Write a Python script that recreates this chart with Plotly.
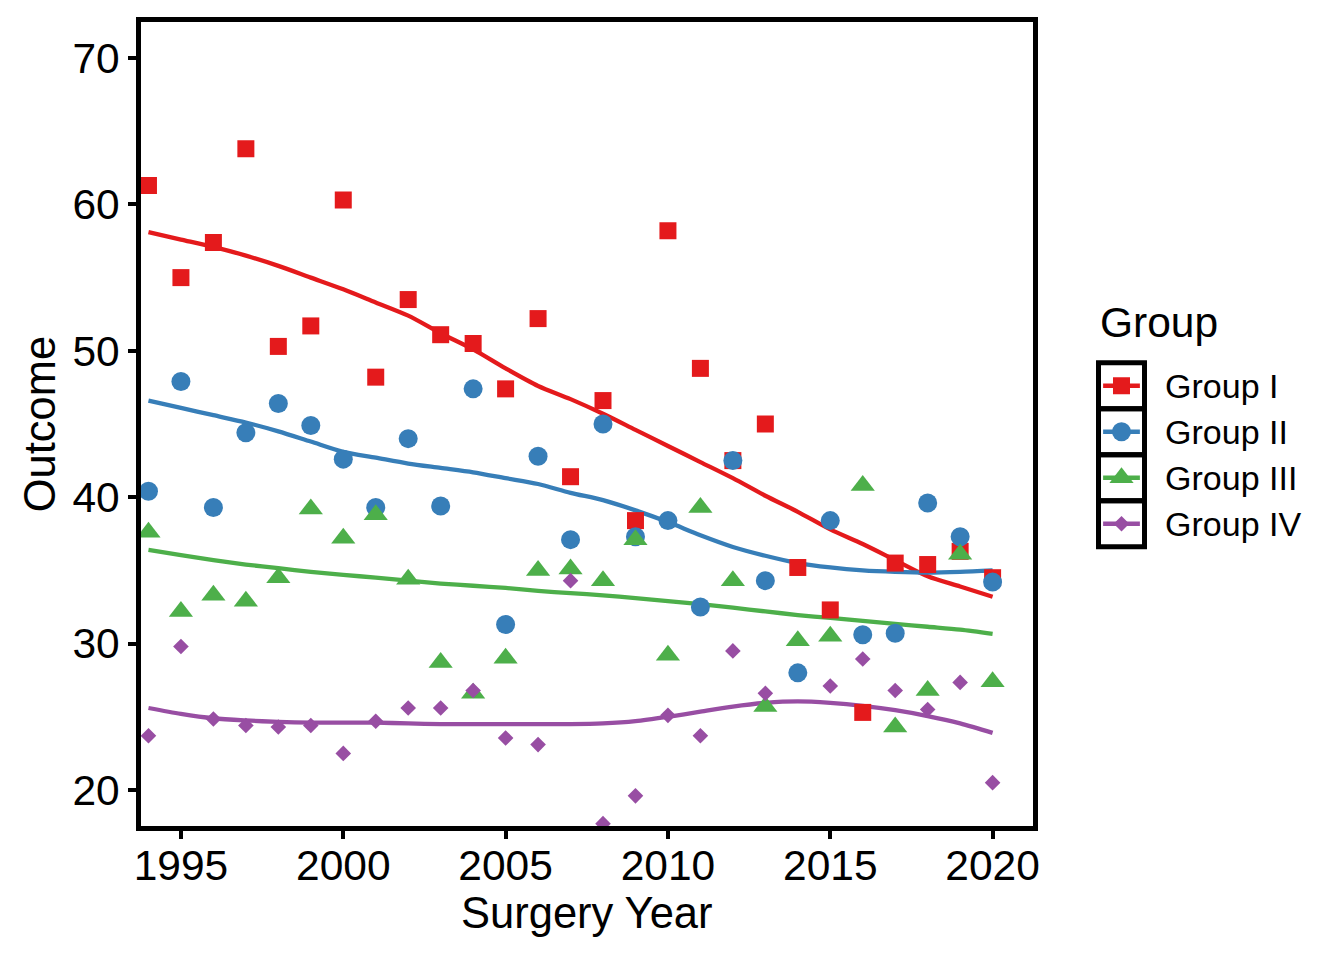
import plotly.graph_objects as go

years = list(range(1994, 2021))
group_names = ["Group I", "Group II", "Group III", "Group IV"]

# observed outcomes (points)
group_1 = [61.3, 55.0, 57.4, 63.8, 50.3, 51.7, 60.3, 48.2, 53.5, 51.1, 50.5, 47.4, 52.2, 41.4,
           46.6, 38.4, 58.2, 48.8, 42.5, 45.0, 35.2, 32.3, 25.3, 35.5, 35.4, 36.3, 34.5]
group_2 = [40.4, 47.9, 39.3, 44.4, 46.4, 44.9, 42.6, 39.3, 44.0, 39.4, 47.4, 31.3, 42.8, 37.1,
           45.0, 37.3, 38.4, 32.5, 42.5, 34.3, 28.0, 38.4, 30.6, 30.7, 39.6, 37.3, 34.2]
group_3 = [37.6, 32.2, 33.3, 32.9, 34.5, 39.2, 37.2, 38.8, 34.4, 28.7, 26.6, 29.0, 35.0, 35.1,
           34.3, 37.1, 29.2, 39.3, 34.3, 25.7, 30.2, 30.5, 40.8, 24.3, 26.8, 36.1, 27.4]
group_4 = [23.7, 29.8, 24.85, 24.4, 24.3, 24.4, 22.5, 24.7, 25.6, 25.6, 26.8, 23.55, 23.1, 34.3,
           17.7, 19.6, 25.1, 23.7, 29.5, 26.6, None, 27.1, 28.95, 26.8, 25.5, 27.35, 20.5]

# smoothed trend lines (one value per year)
smooth_1 = [58.1, 57.6, 57.1, 56.5, 55.8, 55.0, 54.2, 53.3, 52.4, 51.2, 50.1, 48.8, 47.6, 46.7,
            45.7, 44.6, 43.5, 42.4, 41.3, 40.1, 39.0, 37.8, 36.8, 35.7, 34.6, 33.9, 33.2]
smooth_2 = [46.6, 46.1, 45.6, 45.1, 44.5, 43.8, 43.1, 42.7, 42.3, 42.0, 41.7, 41.3, 40.9, 40.3,
            39.8, 39.1, 38.3, 37.4, 36.6, 36.0, 35.5, 35.2, 35.0, 34.9, 34.85, 34.9, 35.0]
smooth_3 = [36.4, 36.05, 35.7, 35.4, 35.15, 34.9, 34.7, 34.5, 34.3, 34.1, 33.95, 33.8, 33.6, 33.45,
            33.3, 33.1, 32.9, 32.7, 32.45, 32.2, 31.95, 31.75, 31.55, 31.35, 31.15, 30.95, 30.66]
smooth_4 = [25.6, 25.2, 24.9, 24.75, 24.65, 24.6, 24.6, 24.6, 24.55, 24.5, 24.5, 24.5, 24.5, 24.5,
            24.55, 24.7, 25.0, 25.35, 25.7, 25.95, 26.05, 25.95, 25.75, 25.45, 25.05, 24.55, 23.9]

x_ticks = [1995, 2000, 2005, 2010, 2015, 2020]
y_ticks = [20, 30, 40, 50, 60, 70]

series = [group_1, group_2, group_3, group_4]
smooths = [smooth_1, smooth_2, smooth_3, smooth_4]
colors = ["#E41A1C", "#377EB8", "#4DAF4A", "#984EA3"]
symbols = ["square", "circle", "triangle-up", "diamond"]
sizes = [17, 19, 21, 12]

FONT = "Liberation Sans, Arial, sans-serif"

fig = go.Figure()

# smooth lines
for name, sm, col in zip(group_names, smooths, colors):
    fig.add_trace(go.Scatter(x=years, y=sm, mode="lines",
                             line=dict(color=col, width=4.3, shape="spline", smoothing=0.8),
                             showlegend=False, hoverinfo="skip"))

# points
for name, vals, col, sym, sz in zip(group_names, series, colors, symbols, sizes):
    fig.add_trace(go.Scatter(x=years, y=vals, mode="markers", name=name,
                             marker=dict(color=col, symbol=sym, size=sz, line=dict(width=0)),
                             showlegend=False))

# custom legend keys (on a small auxiliary axis pair)
for name, col, sym, sz in zip(group_names, colors, symbols, sizes):
    fig.add_trace(go.Scatter(x=[-0.4, 0.4], y=[name, name], mode="lines",
                             line=dict(color=col, width=4.3), xaxis="x2", yaxis="y2",
                             showlegend=False, hoverinfo="skip"))
    fig.add_trace(go.Scatter(x=[0], y=[name], mode="markers",
                             marker=dict(color=col, symbol=sym, size=sz, line=dict(width=0)),
                             xaxis="x2", yaxis="y2", showlegend=False, hoverinfo="skip"))

shapes = []
for i in range(len(group_names)):
    shapes.append(dict(type="rect", xref="x2", yref="y2", x0=-0.5, x1=0.5,
                       y0=i - 0.5, y1=i + 0.5, line=dict(color="black", width=5),
                       fillcolor="rgba(0,0,0,0)", layer="above"))

# page geometry: 8px body margin, slight horizontal compression of the capture
OFF = 8
SX = 0.9944
W, H = 1312, 934


def fx(p):
    return p / SX - OFF


ML, MR, MT = fx(140), 0, 22 - OFF
MB = H - (826 - OFF)
PW = W - ML - MR
PH = H - MT - MB


def px_x(p):
    return (fx(p) - ML) / PW


def px_y(p):
    return (H - MB - (p - OFF)) / PH


KEY = 46.0
KX, KY = 1121.0, 454.75
fig.update_layout(
    width=W, height=H,
    margin=dict(l=ML, r=MR, t=MT, b=MB, pad=0),
    paper_bgcolor="white", plot_bgcolor="white",
    font=dict(family=FONT, color="black", size=42),
    showlegend=False,
    shapes=shapes,
    xaxis=dict(domain=[0, px_x(1032)], range=[1993.77, 2021.23], tickvals=x_ticks,
               ticks="outside", ticklen=8, tickwidth=4, tickcolor="black",
               showline=True, linecolor="black", linewidth=4.5, mirror=True,
               showgrid=False, zeroline=False, tickfont=dict(size=42.5),
               ticklabelstandoff=-10,
               title=dict(text="Surgery Year", font=dict(size=43.5), standoff=5)),
    yaxis=dict(domain=[0, 1], range=[17.54, 72.46], tickvals=y_ticks,
               ticks="outside", ticklen=8, tickwidth=4, tickcolor="black",
               showline=True, linecolor="black", linewidth=4.5, mirror=True,
               showgrid=False, zeroline=False, tickfont=dict(size=42.5),
               title=dict(text="Outcome", font=dict(size=43.5), standoff=5)),
    xaxis2=dict(domain=[px_x(KX - 0.6 * KEY), px_x(KX + 0.6 * KEY)], range=[-0.6, 0.6],
                anchor="y2", visible=False, fixedrange=True),
    yaxis2=dict(domain=[px_y(KY + 2.1 * KEY), px_y(KY - 2.1 * KEY)], range=[3.6, -0.6],
                anchor="x2", type="category", categoryorder="array",
                categoryarray=group_names, side="right", showline=False, showgrid=False,
                zeroline=False, ticks="", ticklabelstandoff=15, tickfont=dict(size=34),
                fixedrange=True),
    annotations=[dict(text="Group", xref="paper", yref="paper", x=px_x(1097), y=px_y(322),
                      xanchor="left", yanchor="middle", showarrow=False,
                      font=dict(size=42.5, family=FONT, color="black"))],
)

fig.write_html("out.html")
